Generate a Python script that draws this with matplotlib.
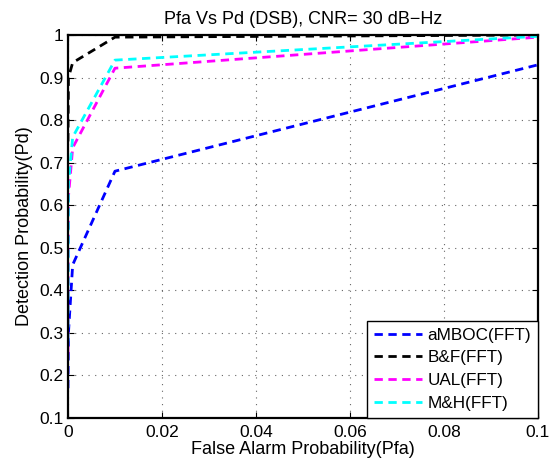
import numpy as np
import matplotlib
matplotlib.use('Agg')
import matplotlib.pyplot as plt
from matplotlib.ticker import FuncFormatter

plt.rcParams['font.family'] = ['Liberation Sans', 'DejaVu Sans']

# --- data ---
pfa = [0, 0.0001, 0.001, 0.01, 0.1]
pd_amboc = [0.17, 0.30, 0.46, 0.68, 0.93]
pd_bf = [0.75, 0.90, 0.935, 0.995, 1.0]
pd_ual = [0.25, 0.62, 0.735, 0.922, 0.995]
pd_mh = [0.28, 0.65, 0.76, 0.941, 0.997]

labels = ['aMBOC(FFT)', 'B&F(FFT)', 'UAL(FFT)', 'M&H(FFT)']
colors = ['#0000ff', '#000000', '#ff00ff', '#00ffff']
x_ticks = [0, 0.02, 0.04, 0.06, 0.08, 0.1]
y_ticks = [0.1, 0.2, 0.3, 0.4, 0.5, 0.6, 0.7, 0.8, 0.9, 1.0]

fig = plt.figure(figsize=(5.54, 4.70), dpi=100)
ax = fig.add_axes([0.1227, 0.1106, 0.8484, 0.8149])

for ys, c, lab in zip([pd_amboc, pd_bf, pd_ual, pd_mh], colors, labels):
    ax.plot(pfa, ys, color=c, linestyle=(0, (3.0, 2.0)), linewidth=2.0, label=lab)

ax.set_xlim(0, 0.1)
ax.set_ylim(0.1, 1.0)
ax.set_xticks(x_ticks)
ax.set_yticks(y_ticks)
fmt = FuncFormatter(lambda v, p: ('%g' % round(v, 4)))
ax.xaxis.set_major_formatter(fmt)
ax.yaxis.set_major_formatter(fmt)
ax.tick_params(direction='in', top=True, right=True, labelsize=12.5, length=4, width=0.8)
ax.tick_params(axis='x', pad=5)
ax.tick_params(axis='y', pad=3)
ax.grid(True, color='#666666', linestyle=(0, (1, 5)), linewidth=0.8)
for s in ax.spines.values():
    s.set_linewidth(1.6)

ax.set_xlabel('False Alarm Probability(Pfa)', fontsize=13, labelpad=1)
ax.set_ylabel('Detection Probability(Pd)', fontsize=13, labelpad=5)
ax.set_title('Pfa Vs Pd (DSB), CNR= 30 dB\u2212Hz', fontsize=13, pad=8)

leg = ax.legend(loc='lower right', fontsize=12.3, handlelength=2.8, handletextpad=0.3,
                borderpad=0.42, labelspacing=0.45, fancybox=False, framealpha=1,
                borderaxespad=0.0)
leg.get_frame().set_edgecolor('black')
leg.get_frame().set_linewidth(1.0)

fig.savefig('out.png', dpi=100)
